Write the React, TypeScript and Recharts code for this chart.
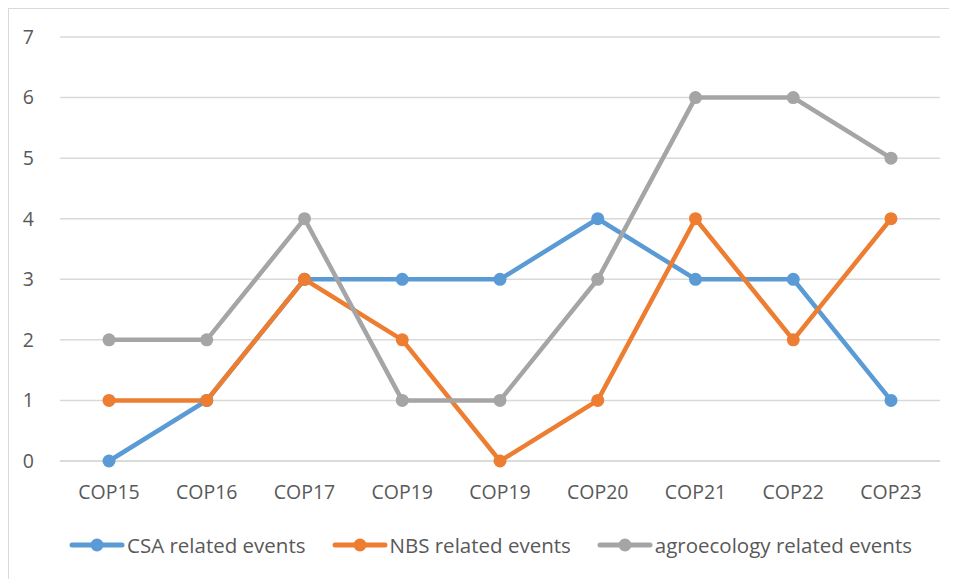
import { CartesianGrid, ComposedChart, Legend, Line, XAxis, YAxis } from "recharts";

const categories = ["COP15", "COP16", "COP17", "COP19", "COP19", "COP20", "COP21", "COP22", "COP23"];
const csaEvents = [0, 1, 3, 3, 3, 4, 3, 3, 1];
const nbsEvents = [1, 1, 3, 2, 0, 1, 4, 2, 4];
const agroEvents = [2, 2, 4, 1, 1, 3, 6, 6, 5];
const yTicks = [0, 1, 2, 3, 4, 5, 6, 7];

const series = [
  { key: "csa", name: "CSA related events", color: "#5b9bd5" },
  { key: "nbs", name: "NBS related events", color: "#ed7d31" },
  { key: "agro", name: "agroecology related events", color: "#a5a5a5" },
];

const data = categories.map((name, i) => ({
  name,
  csa: csaEvents[i],
  nbs: nbsEvents[i],
  agro: agroEvents[i],
}));

const FONT = "'Open Sans', Lato, sans-serif";
const TEXT = "#595959";

function ChartLegend() {
  return (
    <div
      style={{
        height: 68,
        paddingLeft: 32,
        display: "flex",
        alignItems: "center",
        justifyContent: "center",
        gap: 26,
        fontFamily: FONT,
        fontSize: 20.5,
        color: TEXT,
      }}
    >
      {series.map((s) => (
        <div key={s.key} style={{ display: "flex", alignItems: "center", gap: 2 }}>
          <svg width={56} height={16}>
            <line x1={3} y1={8} x2={53} y2={8} stroke={s.color} strokeWidth={5} strokeLinecap="round" />
            <circle cx={28} cy={8} r={6.5} fill={s.color} />
          </svg>
          <span>{s.name}</span>
        </div>
      ))}
    </div>
  );
}

export default function App() {
  return (
    <div
      style={{
        width: 948,
        height: 570,
        borderTop: "1px solid #d9d9d9",
        borderLeft: "1px solid #d9d9d9",
        background: "#fff",
      }}
    >
      <ComposedChart width={948} height={570} data={data} margin={{ top: 28, right: 17, bottom: 0, left: 0 }}>
        <CartesianGrid vertical={false} stroke="#d9d9d9" strokeWidth={1.5} />
        <XAxis
          dataKey="name"
          allowDuplicatedCategory
          padding={{ left: 49, right: 49 }}
          axisLine={{ stroke: "#d9d9d9", strokeWidth: 1.5 }}
          tickLine={false}
          height={50}
          tickMargin={18}
          tick={{ fill: TEXT, fontSize: 19.5, fontFamily: FONT }}
        />
        <YAxis
          domain={[0, 7]}
          ticks={yTicks}
          width={51}
          axisLine={false}
          tickLine={false}
          tickMargin={20}
          tick={{ fill: TEXT, fontSize: 19.5, fontFamily: FONT }}
        />
        <Legend verticalAlign="bottom" height={68} content={<ChartLegend />} />
        {series.map((s) => (
          <Line
            key={s.key}
            type="linear"
            dataKey={s.key}
            name={s.name}
            stroke={s.color}
            strokeWidth={4.5}
            strokeLinecap="round"
            dot={{ r: 6.5, fill: s.color, stroke: s.color, strokeWidth: 0 }}
            isAnimationActive={false}
          />
        ))}
      </ComposedChart>
    </div>
  );
}
